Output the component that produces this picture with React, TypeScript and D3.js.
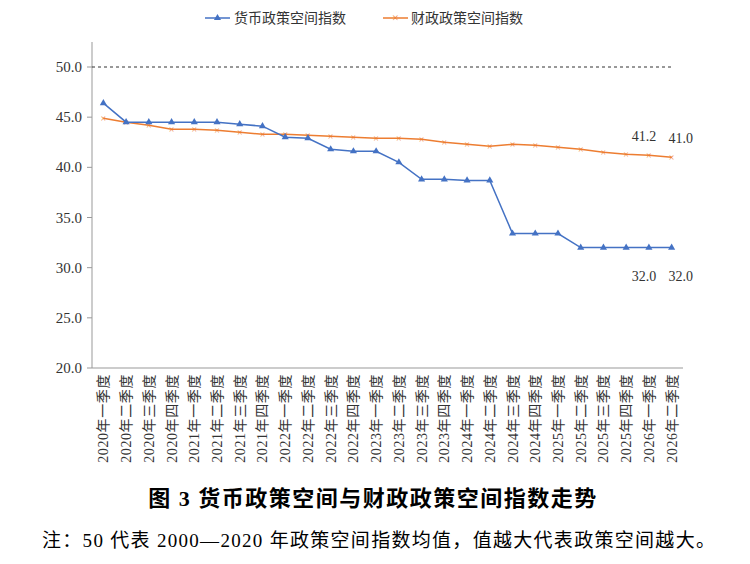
import React from "react";
import * as d3 from "d3";

const quarters = ["一", "二", "三", "四"];
const categories: string[] = [];
for (let y = 2020; y <= 2026; y++) for (const q of quarters) categories.push(`${y}年${q}季度`);
const cats = categories.slice(0, 26);

const monetary = [46.4, 44.5, 44.5, 44.5, 44.5, 44.5, 44.3, 44.1, 43.0, 42.9, 41.8, 41.6, 41.6, 40.5, 38.8, 38.8, 38.7, 38.7, 33.4, 33.4, 33.4, 32.0, 32.0, 32.0, 32.0, 32.0];
const fiscal = [44.9, 44.5, 44.2, 43.8, 43.8, 43.7, 43.5, 43.3, 43.3, 43.2, 43.1, 43.0, 42.9, 42.9, 42.8, 42.5, 42.3, 42.1, 42.3, 42.2, 42.0, 41.8, 41.5, 41.3, 41.2, 41.0];
const yTicks = [20, 25, 30, 35, 40, 45, 50];

const BLUE = "#4472C4";
const ORANGE = "#ED7D31";
const FONT = "'Liberation Serif', 'Noto Sans CJK SC', serif";

export default function App() {
  const x = d3.scaleBand<string>().domain(cats).range([92, 683]);
  const y = d3.scaleLinear().domain([20, 50]).range([368, 67]);
  const cx = (c: string) => (x(c) as number) + x.bandwidth() / 2;
  const line = d3.line<number>().x((_, i) => cx(cats[i])).y((d) => y(d));
  const tri = d3.symbol().type(d3.symbolTriangle).size(22)();
  const n = cats.length;
  const labelDx = [-5, 9];

  return (
    <svg width={750} height={564} style={{ position: "absolute", left: 0, top: 0 }} fontFamily={FONT}>
      <rect width={750} height={564} fill="#fff" />
      {/* legend */}
      <line x1={205} x2={230} y1={18} y2={18} stroke={BLUE} strokeWidth={1.5} />
      <path d={tri} transform="translate(217.5,18)" fill={BLUE} />
      <text x={234} y={23} fontSize={14} fill="#333">货币政策空间指数</text>
      <line x1={383} x2={408} y1={18} y2={18} stroke={ORANGE} strokeWidth={1.5} />
      <text x={395.5} y={22} fontSize={12} fill={ORANGE} textAnchor="middle">×</text>
      <text x={411} y={23} fontSize={14} fill="#333">财政政策空间指数</text>

      {/* axes */}
      <line x1={92} x2={92} y1={42} y2={368} stroke="#999" />
      <line x1={92} x2={683} y1={368} y2={368} stroke="#999" />
      {yTicks.map((t) => (
        <g key={t}>
          <line x1={87} x2={92} y1={y(t)} y2={y(t)} stroke="#999" />
          <text x={82} y={y(t) + 5} textAnchor="end" fontSize={15} fill="#333">{t.toFixed(1)}</text>
        </g>
      ))}
      <line x1={92} x2={673} y1={y(50)} y2={y(50)} stroke="#333" strokeDasharray="3,3" />
      {cats.map((c) => (
        <text key={c} transform={`translate(${cx(c) + 5},374) rotate(-90)`} textAnchor="end" fontSize={14} letterSpacing={0.6} fill="#333">{c}</text>
      ))}

      {/* series */}
      <path d={line(fiscal) as string} fill="none" stroke={ORANGE} strokeWidth={1.5} />
      {fiscal.map((v, i) => (
        <text key={i} x={cx(cats[i])} y={y(v) + 3.5} fontSize={10} fill={ORANGE} textAnchor="middle">×</text>
      ))}
      <path d={line(monetary) as string} fill="none" stroke={BLUE} strokeWidth={1.5} />
      {monetary.map((v, i) => (
        <path key={i} d={tri} transform={`translate(${cx(cats[i])},${y(v)})`} fill={BLUE} />
      ))}

      {/* data labels */}
      {[n - 2, n - 1].map((i, k) => (
        <g key={i}>
          <text x={cx(cats[i]) + labelDx[k]} y={y(fiscal[i]) - 14} textAnchor="middle" fontSize={14} fill="#333">{fiscal[i].toFixed(1)}</text>
          <text x={cx(cats[i]) + labelDx[k]} y={y(monetary[i]) + 33} textAnchor="middle" fontSize={14} fill="#333">{monetary[i].toFixed(1)}</text>
        </g>
      ))}

      <text x={373} y={506} textAnchor="middle" fontSize={22} fontWeight="bold" letterSpacing={1.5} fill="#000">图 3  货币政策空间与财政政策空间指数走势</text>
      <text x={42} y={547} fontSize={19} letterSpacing={1.3} fill="#000">注：50 代表 2000—2020 年政策空间指数均值，值越大代表政策空间越大。</text>
    </svg>
  );
}
